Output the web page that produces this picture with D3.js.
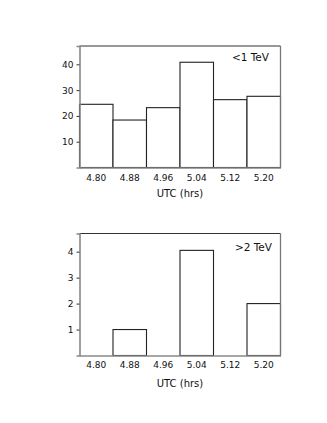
<!DOCTYPE html>
<html><head><meta charset="utf-8">
<script src="https://cdn.jsdelivr.net/npm/d3@7"></script>
<style>body{margin:0;background:#fff}svg{display:block}text{font-family:"DejaVu Sans",sans-serif;fill:#111}</style>
</head><body><svg id="c" width="327" height="423"></svg>
<script>
const categories = ["4.80","4.88","4.96","5.04","5.12","5.20"];
const lowEnergy = [24.5, 18.4, 23.2, 40.8, 26.3, 27.6];
const highEnergy = [0, 1, 0, 4.05, 0, 2];
const lowTicks = [10, 20, 30, 40];
const highTicks = [1, 2, 3, 4];
const panelLabels = ["<1 TeV", ">2 TeV"];
const xTitle = "UTC (hrs)";

const svg = d3.select("#c");
const left = 79.5, right = 280.5;

function panel(top, bottom, yMax, values, ticks, label, opt) {
  const g = svg.append("g");
  const x = d3.scaleBand().domain(categories).range([left, right]).padding(0);
  const y = d3.scaleLinear().domain([0, yMax]).range([bottom, top]);
  g.selectAll("rect.bar").data(values.map((v,i)=>({v, c: categories[i]})).filter(d=>d.v>0))
    .enter().append("rect")
    .attr("x", d=>x(d.c)).attr("width", x.bandwidth())
    .attr("y", d=>y(d.v)).attr("height", d=>y(0)-y(d.v))
    .attr("fill","#fff").attr("stroke","#222").attr("stroke-width",1.1);
  g.append("line").attr("x1",left).attr("x2",right).attr("y1",top).attr("y2",top).attr("stroke","#333").attr("stroke-width",1.1);
  g.append("line").attr("x1",right).attr("x2",right).attr("y1",top).attr("y2",bottom).attr("stroke","#777").attr("stroke-width",1.3);
  const ya = d3.axisLeft(y).tickValues(ticks).tickSize(3).tickPadding(3).tickFormat(d3.format("d"));
  const yg = g.append("g").attr("transform",`translate(${left},0)`).call(ya);
  yg.select(".domain").attr("stroke","#888").attr("stroke-width",1.6);
  yg.selectAll(".tick line").attr("stroke","#333");
  yg.selectAll("text").attr("font-size",9).style("font-family","DejaVu Sans").style("fill","#111");
  const xa = d3.axisBottom(x).tickSize(0).tickPadding(opt.pad);
  const xg = g.append("g").attr("transform",`translate(0,${bottom})`).call(xa);
  xg.select(".domain").attr("stroke","#888").attr("stroke-width",1.6);
  xg.selectAll("text").attr("font-size",9).style("font-family","DejaVu Sans").style("fill","#111");
  g.append("text").attr("x",(left+right)/2).attr("y",bottom+opt.title).attr("text-anchor","middle").attr("font-size",10).text(xTitle);
  g.append("text").attr("x",opt.lx).attr("y",top+opt.ly).attr("text-anchor","end").attr("font-size",10.5).text(label);
}
panel(46, 167.5, 47.1, lowEnergy, lowTicks, panelLabels[0], {pad:7, title:29.5, lx:269, ly:15});
panel(233.5, 355.5, 4.7, highEnergy, highTicks, panelLabels[1], {pad:6, title:31, lx:272, ly:17});
</script></body></html>
